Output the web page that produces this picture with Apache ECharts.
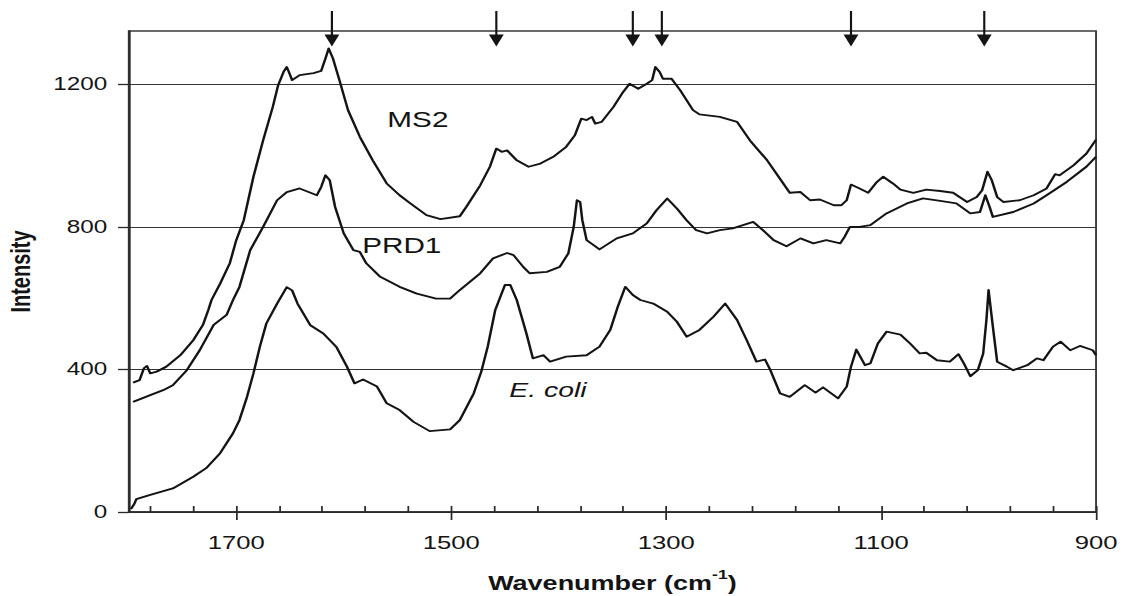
<!DOCTYPE html>
<html>
<head>
<meta charset="utf-8">
<title>Raman spectra: MS2, PRD1, E. coli</title>
<script src="https://cdn.jsdelivr.net/npm/echarts@6.0.0/dist/echarts.min.js"></script>
<style>
  html, body { margin: 0; padding: 0; background: #fff; overflow: hidden; }
  /* the figure is laid out narrow and widened horizontally, giving the wide lettering of the original plot */
  #chart { width: 832px; height: 596px; transform: scaleX(1.3498); transform-origin: 0 0; }
</style>
</head>
<body>
<div id="chart"></div>
<script>
// Spectra: wavenumber (cm^-1) and intensity for each sample
const ms2Wavenumber = [1796,1790,1786,1783,1780,1774,1765,1752,1740,1731,
  1726,1723,1715,1706,1700,1693,1684,1675,1666,1661,
  1656,1653,1651,1648,1641,1628,1621,1617,1614,1610,
  1604,1596,1585,1573,1560,1548,1538,1523,1510,1492,
  1486,1473,1464,1458,1453,1448,1439,1428,1417,1405,
  1393,1385,1379,1374,1369,1366,1360,1349,1340,1334,
  1326,1318,1313,1310,1306,1303,1295,1287,1275,1269,
  1250,1234,1222,1206,1191,1185,1175,1166,1157,1144,
  1137,1132,1128,1120,1112,1104,1098,1089,1082,1070,
  1058,1045,1033,1020,1011,1006,1001,997,992,986,
  971,958,946,938,934,921,909,900];
const ms2Intensity = [363,370,403,410,389,394,408,440,482,525,
  567,595,641,698,763,819,941,1043,1137,1198,
  1235,1249,1235,1212,1226,1232,1238,1273,1301,1273,
  1212,1128,1053,987,922,889,866,833,822,830,
  856,917,969,1020,1011,1015,987,969,978,997,
  1025,1057,1104,1100,1109,1090,1095,1137,1179,1202,
  1188,1202,1212,1249,1235,1216,1216,1184,1128,1116,
  1109,1095,1043,987,922,896,898,875,877,861,
  861,875,919,908,896,926,941,922,905,896,
  905,901,896,870,884,903,955,931,884,870,
  875,889,908,948,945,973,1006,1045];

const prd1Wavenumber = [1796,1780,1768,1759,1746,1734,1721,1709,1703,1697,
  1687,1675,1662,1653,1641,1625,1621,1617,1613,1608,
  1600,1591,1585,1579,1566,1548,1532,1514,1501,1492,
  1473,1461,1448,1442,1433,1427,1411,1399,1391,1386,
  1383,1380,1378,1374,1362,1346,1331,1318,1309,1299,
  1290,1281,1272,1262,1250,1238,1219,1210,1200,1188,
  1175,1163,1151,1138,1134,1129,1120,1110,1095,1076,
  1061,1045,1030,1017,1008,1003,999,996,977,958,
  946,927,909,900];
const prd1Intensity = [309,328,342,356,398,454,525,553,595,632,
  735,800,875,898,908,889,912,945,931,856,
  782,735,730,698,660,632,613,599,599,623,
  670,712,727,721,688,670,674,688,726,800,
  875,870,819,763,737,768,782,810,847,880,
  852,819,791,782,791,796,814,791,763,746,
  768,754,763,754,772,800,800,805,838,866,
  880,873,866,838,842,889,856,828,842,866,
  889,927,969,997];

const ecoliWavenumber = [1798,1795,1793,1780,1759,1740,1728,1715,1703,1697,
  1690,1684,1678,1672,1662,1653,1648,1643,1631,1619,
  1607,1597,1590,1582,1569,1560,1548,1535,1520,1501,
  1492,1479,1472,1466,1459,1450,1445,1439,1430,1424,
  1414,1408,1393,1374,1362,1352,1345,1338,1331,1324,
  1312,1299,1290,1281,1269,1256,1245,1234,1225,1216,
  1208,1203,1194,1185,1171,1161,1154,1140,1132,1128,
  1123,1115,1110,1103,1095,1082,1073,1064,1058,1048,
  1036,1028,1023,1017,1010,1005,1002,1000,996,992,
  983,977,964,955,949,940,933,924,915,903,
  900];
const ecoliIntensity = [8,22,36,48,66,99,123,165,221,258,
  323,389,464,529,585,631,622,585,524,501,
  464,408,361,372,352,305,286,253,227,232,
  258,333,394,464,567,637,637,595,501,431,
  440,422,436,440,464,511,576,632,609,595,
  585,562,534,492,511,548,585,539,482,422,
  428,398,333,323,356,335,350,319,352,408,
  456,412,417,473,506,498,473,445,447,426,
  422,443,417,381,398,445,539,623,520,422,
  408,398,412,431,426,464,478,454,466,454,
  440];

// Band positions marked with arrows above the plot
const arrowWavenumbers = [1611, 1458, 1331, 1304, 1128, 1004];

// Axis ticks and labels
const xLabelTicks = [1700, 1500, 1300, 1100, 900];
const xMinorTicks = [1780, 1740, 1700, 1660, 1620, 1580, 1540, 1500, 1460, 1420, 1380,
  1340, 1300, 1260, 1220, 1180, 1140, 1100, 1060, 1020, 980, 940, 900];
const yLabelTicks = [0, 400, 800, 1200];

const X_MIN = 900, X_MAX = 1800, Y_MIN = 0, Y_MAX = 1350;
const FONT = '"Liberation Sans", Arial, Helvetica, sans-serif';
const INK = '#141414';
const plain = v => String(v);

const zip = (xs, ys) => xs.map((x, i) => [x, ys[i]]);

function spectrum(name, xs, ys, label) {
  return {
    name: name,
    type: 'line',
    data: zip(xs, ys),
    showSymbol: false,
    symbol: 'none',
    silent: true,
    lineStyle: { color: INK, width: 1.85, join: 'round' },
    markPoint: {
      symbol: 'circle',
      symbolSize: 1,
      itemStyle: { color: 'rgba(0,0,0,0)' },
      silent: true,
      label: Object.assign({
        show: true, position: 'inside', color: INK,
        fontFamily: FONT, fontSize: 22
      }, label.style || {}),
      data: [{ coord: label.at, label: { formatter: label.text } }]
    }
  };
}

const chart = echarts.init(document.getElementById('chart'), null, {
  renderer: 'svg', width: 832, height: 596
});

chart.setOption({
  animation: false,
  backgroundColor: '#fff',
  grid: {
    left: 95.4, right: 20, top: 31, bottom: 84,
    outerBoundsMode: 'none', containLabel: false,
    show: true, borderColor: '#3a3a3a', borderWidth: 1.4, backgroundColor: 'transparent'
  },
  xAxis: [{
    type: 'value', min: X_MIN, max: X_MAX, inverse: true,
    position: 'bottom',
    name: '{t|Wavenumber (cm}{s|-1}{t|)}',
    nameLocation: 'middle', nameGap: 56,
    nameTextStyle: {
      rich: {
        t: { fontFamily: FONT, fontSize: 20, fontWeight: 'bold', color: INK, lineHeight: 30 },
        s: { fontFamily: FONT, fontSize: 13, fontWeight: 'bold', color: INK, verticalAlign: 'top' }
      }
    },
    axisLine: { show: true, lineStyle: { color: '#2a2a2a', width: 1.6 } },
    axisTick: { show: true, inside: false, length: 8, customValues: xLabelTicks,
      lineStyle: { color: '#2a2a2a', width: 1.3 } },
    axisLabel: { show: true, customValues: xLabelTicks, margin: 21, formatter: plain,
      fontFamily: FONT, fontSize: 19, color: INK },
    splitLine: { show: false }
  }, {
    type: 'value', min: X_MIN, max: X_MAX, inverse: true,
    position: 'bottom',
    axisLine: { show: false },
    axisTick: { show: true, inside: true, length: 6, customValues: xMinorTicks,
      lineStyle: { color: '#2a2a2a', width: 1.3 } },
    axisLabel: { show: false },
    splitLine: { show: false }
  }],
  yAxis: {
    type: 'value', min: Y_MIN, max: Y_MAX, interval: 400,
    name: 'Intensity', nameLocation: 'middle', nameGap: 70,
    nameTextStyle: { fontFamily: FONT, fontSize: 20, fontWeight: 'bold', color: INK },
    axisLine: { show: true, lineStyle: { color: '#2a2a2a', width: 1.6 } },
    axisTick: { show: true, inside: false, length: 8, customValues: yLabelTicks,
      lineStyle: { color: '#2a2a2a', width: 1.3 } },
    axisLabel: { show: true, customValues: yLabelTicks, margin: 16, formatter: plain,
      fontFamily: FONT, fontSize: 18, color: INK },
    splitLine: { show: true, lineStyle: { color: '#333', width: 1.2 } }
  },
  series: [
    spectrum('MS2', ms2Wavenumber, ms2Intensity, { text: 'MS2', at: [1531, 1101] }),
    spectrum('PRD1', prd1Wavenumber, prd1Intensity, { text: 'PRD1', at: [1546, 748] }),
    spectrum('E. coli', ecoliWavenumber, ecoliIntensity,
      { text: 'E. coli', at: [1410, 343], style: { fontStyle: 'italic', fontSize: 21 } }),
    {
      name: 'bands',
      type: 'custom',
      silent: true,
      clip: false,
      data: arrowWavenumbers.map(w => [w, Y_MAX]),
      renderItem: function (params, api) {
        const p = api.coord([api.value(0), api.value(1)]);
        const x = p[0], top = p[1];
        return {
          type: 'group',
          children: [
            { type: 'line', shape: { x1: x, y1: top - 20, x2: x, y2: top + 6 },
              style: { stroke: INK, lineWidth: 1.6 } },
            { type: 'polygon',
              shape: { points: [[x - 5.5, top + 3.5], [x + 5.5, top + 3.5], [x, top + 15.5]] },
              style: { fill: INK } }
          ]
        };
      }
    }
  ]
});
</script>
</body>
</html>
